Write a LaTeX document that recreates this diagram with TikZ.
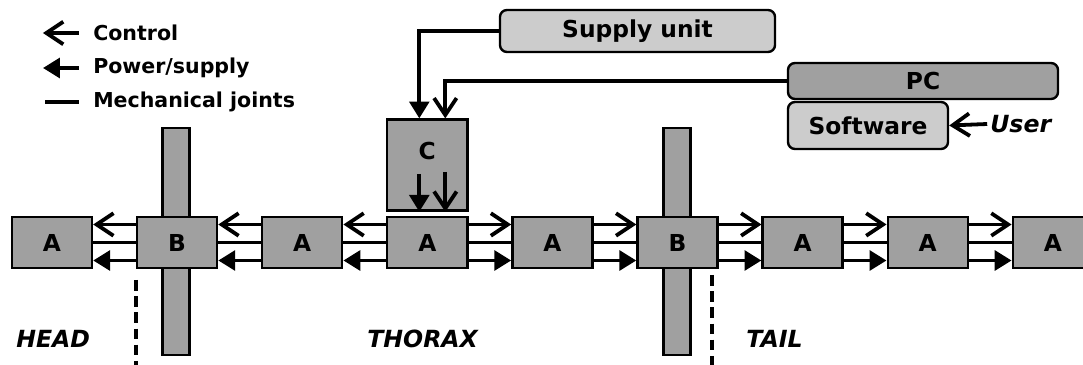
\documentclass[tikz,border=0pt]{standalone}
\usepackage{fontspec}
\setmainfont{DejaVu Sans}
\usepackage{xcolor}
\usetikzlibrary{arrows.meta, positioning, calc}

\definecolor{boxgray}{RGB}{160,160,160}
\definecolor{litegray}{RGB}{204,204,204}

\tikzset{
  segbox/.style={draw, line width=1.7pt, fill=boxgray, minimum width=2cm,
    minimum height=1.275cm, inner sep=0pt,
    font=\bfseries\fontsize{16.6}{20}\selectfont},
  barbox/.style={draw, line width=1.7pt, fill=boxgray, minimum width=0.675cm,
    minimum height=5.675cm, inner sep=0pt},
  unitbox/.style={draw, line width=1.7pt, rounded corners=5pt, inner sep=0pt,
    font=\bfseries\fontsize{16.6}{20}\selectfont},
  ctrlarrow/.style={line width=2.7pt, -{Straight Barb[length=12pt,width=16pt]}},
  pwrarrow/.style={line width=2.7pt, -{Triangle[length=12pt,width=14pt]}},
  joint/.style={line width=2.7pt},
  cutline/.style={line width=2.2pt, dash pattern=on 7.5pt off 4pt},
  legtext/.style={anchor=west, inner sep=0pt, font=\bfseries\fontsize{14.6}{17}\selectfont},
  region/.style={anchor=west, inner sep=0pt, font=\bfseries\itshape\fontsize{16.8}{20}\selectfont},
}

\begin{document}
\begin{tikzpicture}[x=0.025cm, y=-0.025cm]
  \useasboundingbox (0,0) rectangle (1083,365);
  %% legend
  \node[legtext] (lgctrl) at (93,33) {Control};
  \node[legtext] (lgpwr) at (93,68) {Power/supply};
  \node[legtext] (lgjnt) at (93,102) {Mechanical joints};
  \draw[ctrlarrow] ([xshift=-0.35cm]lgctrl.west) -- ++(-0.9cm,0);
  \draw[pwrarrow] ([xshift=-0.35cm]lgpwr.west) -- ++(-0.9cm,0);
  \draw[joint] ([xshift=-0.35cm]lgjnt.west) -- ++(-0.85cm,0);

  %% segments of the body
  \node[barbox] (bar1) at (176,241.5) {};
  \node[barbox] (bar2) at (677,241.5) {};
  \foreach \lbl [count=\i from 0] in {A,B,A,A,A,B,A,A,A}
    \node[segbox] (s\i) at ({52+125.1*\i},242.5) {\lbl};

  %% links towards the head
  \foreach \i/\j in {1/0,2/1,3/2}{
    \draw[ctrlarrow] ([yshift=0.45cm]s\i.west) -- ([yshift=0.45cm]s\j.east);
    \draw[joint] (s\i.west) -- (s\j.east);
    \draw[pwrarrow] ([yshift=-0.45cm]s\i.west) -- ([yshift=-0.45cm]s\j.east);
  }
  %% links towards the tail
  \foreach \i/\j in {3/4,4/5,5/6,6/7,7/8}{
    \draw[ctrlarrow] ([yshift=0.45cm]s\i.east) -- ([yshift=0.45cm]s\j.west);
    \draw[joint] (s\i.east) -- (s\j.west);
    \draw[pwrarrow] ([yshift=-0.45cm]s\i.east) -- ([yshift=-0.45cm]s\j.west);
  }

  %% controller on top of the middle segment
  \node[segbox, minimum height=2.275cm, anchor=south] (ctrl)
    at ([yshift=0.1cm]s3.north) {};
  \node[font=\bfseries\fontsize{16.6}{20}\selectfont, inner sep=0pt] (clbl)
    at ([yshift=-0.82cm]ctrl.north) {C};
  \draw[pwrarrow] ([xshift=-0.2cm,yshift=0.95cm]ctrl.south) -- ([xshift=-0.2cm]ctrl.south);
  \draw[ctrlarrow] ([xshift=0.45cm,yshift=1cm]ctrl.south) -- ([xshift=0.45cm]ctrl.south);

  %% supply unit, PC and software
  \node[unitbox, fill=litegray, minimum width=6.875cm, minimum height=1.05cm]
    (sup) at (637.5,31) {Supply unit};
  \node[unitbox, fill=boxgray, minimum width=6.75cm, minimum height=0.9cm]
    (pc) at (923,81) {PC};
  \node[unitbox, fill=litegray, minimum width=4cm, minimum height=1.175cm]
    (sw) at (868,125.5) {Software};
  \node[region] (user) at (990,124) {User};
  \draw[ctrlarrow] ([xshift=-2pt]user.west) -- (sw.east);
  \draw[pwrarrow] (sup.west) -| ([xshift=-0.2cm]ctrl.north);
  \draw[ctrlarrow] (pc.west) -| ([xshift=0.45cm]ctrl.north);

  %% body regions
  \coordinate (cut1) at (136,280);
  \coordinate (cut2) at (712,275);
  \draw[cutline] (cut1) -- (cut1 |- 0,365);
  \draw[cutline] (cut2) -- (cut2 |- 0,365);
  \node[region] (head) at (16,339) {HEAD};
  \node[region] (thorax) at (367,339) {THORAX};
  \node[region] (tail) at (746,339) {TAIL};
\end{tikzpicture}
\end{document}
